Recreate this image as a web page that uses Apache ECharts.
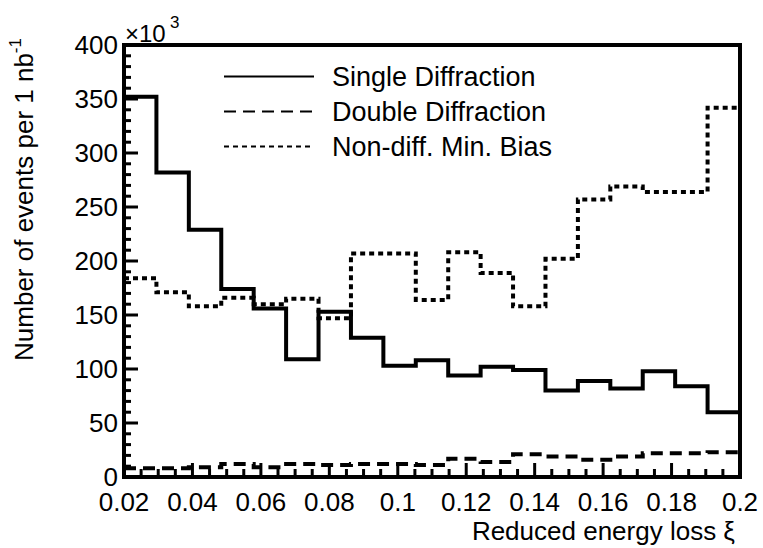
<!DOCTYPE html>
<html>
<head>
<meta charset="utf-8">
<script src="https://cdn.jsdelivr.net/npm/echarts@6/dist/echarts.min.js"></script>
<style>
  html, body { margin: 0; padding: 0; background: #fff; }
  #main { width: 763px; height: 548px; }
</style>
</head>
<body>
<div id="main"></div>
<script>
// histogram binning: 19 bins between 0.02 and 0.2
const xMin = 0.02, xMax = 0.2, nBins = 19;
const xTickLabels = ['0.02', '0.04', '0.06', '0.08', '0.1', '0.12', '0.14', '0.16', '0.18', '0.2'];
const yTickLabels = ['0', '50', '100', '150', '200', '250', '300', '350', '400'];

// values in units of 10^3 events per 1 nb^-1, one per bin
const singleDiff = [352, 282, 229, 174, 156, 109, 153, 129, 103, 108, 94, 102, 99, 80, 89, 82, 98, 84, 60];
const doubleDiff = [8, 8, 9, 12, 9, 12, 11, 12, 12, 11, 17, 14, 21, 19, 16, 19, 22, 22, 23];
const nonDiff = [184, 171, 158, 166, 160, 165, 147, 207, 207, 164, 208, 189, 158, 202, 257, 269, 264, 264, 342];

const seriesNames = ['Single Diffraction', 'Double Diffraction', 'Non-diff. Min. Bias'];

// bin contents -> step points (left edge of each bin + closing right edge)
function toSteps(vals) {
  const w = (xMax - xMin) / nBins;
  const pts = vals.map((v, i) => [xMin + i * w, v]);
  pts.push([xMax, vals[vals.length - 1]]);
  return pts;
}

// ticks drawn inward, ROOT style: major at labels, minor in between
const xMinorSplit = 4, yMinorSplit = 5;
const majorLen = 14, xMinorLen = 8, yMinorLen = 7;

function tickItems(labels, split, toItem) {
  const vals = labels.map(Number);
  const out = [];
  vals.forEach((v, i) => {
    out.push(toItem(v, majorLen));
    if (i < vals.length - 1) {
      const step = (vals[i + 1] - v) / split;
      for (let k = 1; k < split; k++) out.push(toItem(v + k * step, -1));
    }
  });
  return out;
}
const xTickItems = tickItems(xTickLabels, xMinorSplit, (v, len) => [v, 0, len < 0 ? xMinorLen : len, 0]);
const yTickItems = tickItems(yTickLabels, yMinorSplit, (v, len) => [xMin, v, len < 0 ? yMinorLen : len, 1]);

const font = '"Liberation Sans", Arial, sans-serif';
const black = '#000';

const chart = echarts.init(document.getElementById('main'), null, { renderer: 'svg' });

function histSeries(name, vals, dash) {
  return {
    name: name,
    type: 'line',
    step: 'end',
    symbol: 'none',
    data: toSteps(vals),
    itemStyle: { color: black },
    lineStyle: { color: black, width: 4, type: dash, cap: 'butt', join: 'miter' },
    z: 3
  };
}

// one tick mark per data item; dim 3 says bottom axis (0) or left axis (1)
function renderTick(params, api) {
  const p = api.coord([api.value(0), api.value(1)]);
  const len = api.value(2);
  const vertical = api.value(3) === 0;
  return {
    type: 'line',
    shape: vertical
      ? { x1: p[0], y1: p[1], x2: p[0], y2: p[1] - len }
      : { x1: p[0], y1: p[1], x2: p[0] + len, y2: p[1] },
    style: { stroke: black, lineWidth: 3 }
  };
}

chart.setOption({
  animation: false,
  grid: { left: 124, right: 23, top: 45, bottom: 71, show: true, borderColor: black, borderWidth: 4 },
  legend: {
    orient: 'vertical',
    left: 218, top: 58,
    itemWidth: 90, itemHeight: 28, itemGap: 8,
    data: seriesNames,
    itemStyle: { opacity: 0 },
    textStyle: { fontFamily: font, fontSize: 27, color: black, padding: [0, 0, 0, 13] }
  },
  xAxis: {
    type: 'value',
    min: xMin, max: xMax, interval: 0.02,
    axisLine: { show: true, lineStyle: { color: black, width: 4 } },
    axisTick: { show: false },
    splitLine: { show: false },
    axisLabel: {
      margin: 13, fontFamily: font, fontSize: 26, lineHeight: 24, color: black,
      formatter: (v) => xTickLabels[Math.round((v - xMin) / 0.02)]
    }
  },
  yAxis: {
    type: 'value',
    min: 0, max: 400, interval: 50,
    axisLine: { show: true, lineStyle: { color: black, width: 4 } },
    axisTick: { show: false },
    splitLine: { show: false },
    axisLabel: {
      margin: 6, fontFamily: font, fontSize: 26, lineHeight: 24, color: black,
      formatter: (v) => yTickLabels[Math.round(v / 50)]
    }
  },
  graphic: [
    {
      type: 'text', x: 22, y: 38, rotation: Math.PI / 2,
      style: {
        text: '{a|Number of events per 1 nb}{s|-1}',
        align: 'right', verticalAlign: 'middle',
        rich: {
          a: { fontFamily: font, fontSize: 26, fill: black, lineHeight: 30, verticalAlign: 'bottom' },
          s: { fontFamily: font, fontSize: 17, fill: black, lineHeight: 30, verticalAlign: 'top' }
        }
      }
    },
    {
      type: 'text', x: 125, y: 45,
      style: { text: '×10', fontFamily: font, fontSize: 24, fill: black, align: 'left', verticalAlign: 'bottom' }
    },
    {
      type: 'text', x: 170, y: 31,
      style: { text: '3', fontFamily: font, fontSize: 17, fill: black, align: 'left', verticalAlign: 'bottom' }
    },
    {
      type: 'text', x: 735, y: 531,
      style: { text: 'Reduced energy loss ξ', fontFamily: font, fontSize: 26, lineHeight: 26, fill: black, align: 'right', verticalAlign: 'middle' }
    }
  ],
  series: [
    histSeries(seriesNames[0], singleDiff, 'solid'),
    histSeries(seriesNames[1], doubleDiff, [12, 7]),
    histSeries(seriesNames[2], nonDiff, [5, 4]),
    { type: 'custom', name: 'xticks', renderItem: renderTick, data: xTickItems, clip: false, silent: true, z: 2 },
    { type: 'custom', name: 'yticks', renderItem: renderTick, data: yTickItems, clip: false, silent: true, z: 2 }
  ]
});
</script>
</body>
</html>
